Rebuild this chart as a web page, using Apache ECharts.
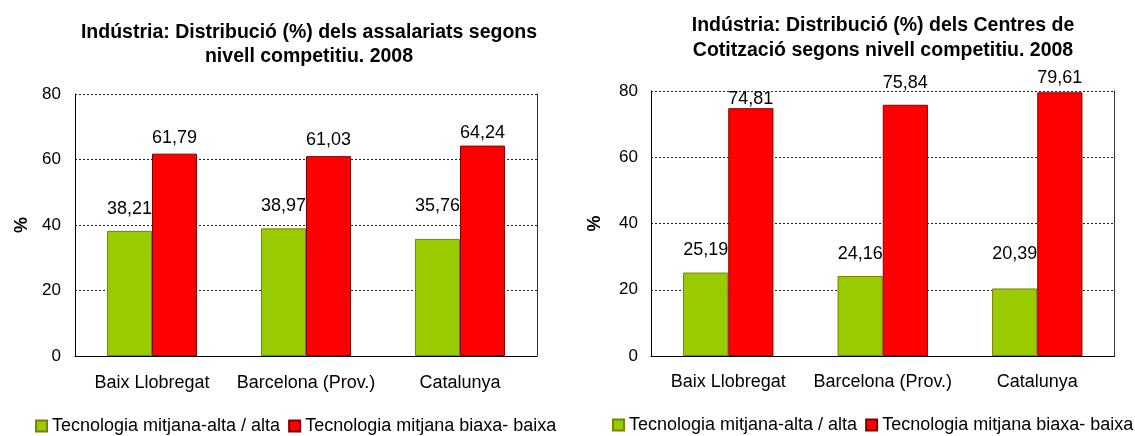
<!DOCTYPE html>
<html>
<head>
<meta charset="utf-8">
<script src="https://cdn.jsdelivr.net/npm/echarts@6/dist/echarts.min.js"></script>
<style>
  html, body { margin: 0; padding: 0; background: #fff; }
  #chart { width: 1135px; height: 436px; }
</style>
</head>
<body>
<div id="chart"></div>
<script>
// Areas shown on both panels
const categories = ['Baix Llobregat', 'Barcelona (Prov.)', 'Catalunya'];
const seriesNames = ['Tecnologia mitjana-alta / alta', 'Tecnologia mitjana biaxa- baixa'];

// Left panel: share of salaried workers (%)
const assalariatsAlta = [38.21, 38.97, 35.76];
const assalariatsBaixa = [61.79, 61.03, 64.24];

// Right panel: share of contribution centres (%)
const centresAlta = [25.19, 24.16, 20.39];
const centresBaixa = [74.81, 75.84, 79.61];

const yTicks = [0, 20, 40, 60, 80];

const titles = [
  'Indústria: Distribució (%) dels assalariats segons\nnivell competitiu. 2008',
  'Indústria: Distribució (%) dels Centres de\nCotització segons nivell competitiu. 2008'
];

// Styling
const FONT = "'Liberation Sans', Arial, sans-serif";
const GREEN = '#99CC00', GREEN_EDGE = '#808000';
const RED = '#FF0000', RED_EDGE = '#800000';

// Gap between each bar top and its value label (hand placed labels)
const labelLift = [
  [[13, 13, 24], [7, 7, 4]],
  [[13.5, 13, 25.5], [0, 13, 5]]
];

function fmt(v) { return v.toFixed(2).replace('.', ','); }

function barSeries(name, values, gridIdx, color, edge, lifts) {
  return {
    name: name,
    type: 'bar',
    xAxisIndex: gridIdx,
    yAxisIndex: gridIdx * 2,
    barGap: '0%',
    barCategoryGap: '41.5%',
    itemStyle: { color: color, borderColor: edge, borderWidth: 1 },
    label: {
      show: true,
      position: 'top',
      color: '#000',
      fontFamily: FONT,
      fontSize: 18,
      formatter: p => fmt(p.value)
    },
    data: values.map((v, i) => ({ value: v, label: { distance: lifts[i] } }))
  };
}

const grids = [
  { left: 75, top: 94, width: 462, height: 262 },
  { left: 651, top: 91, width: 463.5, height: 265 }
];

const xAxes = grids.map((g, i) => ({
  type: 'category',
  gridIndex: i,
  data: categories,
  axisLine: { lineStyle: { color: '#000', width: 1 } },
  axisTick: { show: false },
  axisLabel: { interval: 0, color: '#000', fontFamily: FONT, fontSize: 18, margin: i === 0 ? 18 : 17 }
}));

const yAxes = [];
grids.forEach((g, i) => {
  yAxes.push({
    type: 'value',
    gridIndex: i,
    min: yTicks[0],
    max: yTicks[yTicks.length - 1],
    interval: yTicks[1] - yTicks[0],
    name: '%',
    nameLocation: 'middle',
    nameRotate: 90,
    nameGap: i === 0 ? 44 : 47,
    nameTextStyle: { color: '#000', fontFamily: FONT, fontSize: 18, fontWeight: 'bold' },
    axisLine: { show: true, lineStyle: { color: '#000', width: 1 } },
    axisTick: { show: false },
    axisLabel: { color: '#000', fontFamily: FONT, fontSize: 17, margin: i === 0 ? 14 : 13 },
    splitLine: { show: true, lineStyle: { color: '#222', width: 1, type: [2, 2] } }
  });
  // right-hand frame line of the plot area
  yAxes.push({
    type: 'value',
    gridIndex: i,
    position: 'right',
    min: yTicks[0],
    max: yTicks[yTicks.length - 1],
    interval: yTicks[1] - yTicks[0],
    axisLine: { show: true, lineStyle: { color: '#333', width: 1 } },
    axisTick: { show: false },
    axisLabel: { show: false },
    splitLine: { show: false }
  });
});

const option = {
  backgroundColor: '#fff',
  animation: false,
  title: [
    {
      text: titles[0], left: 309, top: 21, textAlign: 'center', padding: 0,
      textStyle: { color: '#000', fontFamily: FONT, fontSize: 19.5, fontWeight: 'bold', lineHeight: 24 }
    },
    {
      text: titles[1], left: 883, top: 13, textAlign: 'center', padding: 0,
      textStyle: { color: '#000', fontFamily: FONT, fontSize: 19.5, fontWeight: 'bold', lineHeight: 25 }
    }
  ],
  legend: [
    {
      left: 35, top: 417, padding: 0, itemWidth: 11, itemHeight: 11, itemGap: 8, icon: 'rect',
      data: seriesNames,
      textStyle: { color: '#000', fontFamily: FONT, fontSize: 18 }
    },
    {
      left: 612, top: 416, padding: 0, itemWidth: 11, itemHeight: 11, itemGap: 8, icon: 'rect',
      data: seriesNames,
      textStyle: { color: '#000', fontFamily: FONT, fontSize: 18 }
    }
  ],
  grid: grids,
  xAxis: xAxes,
  yAxis: yAxes,
  series: [
    barSeries(seriesNames[0], assalariatsAlta, 0, GREEN, GREEN_EDGE, labelLift[0][0]),
    barSeries(seriesNames[1], assalariatsBaixa, 0, RED, RED_EDGE, labelLift[0][1]),
    barSeries(seriesNames[0], centresAlta, 1, GREEN, GREEN_EDGE, labelLift[1][0]),
    barSeries(seriesNames[1], centresBaixa, 1, RED, RED_EDGE, labelLift[1][1])
  ]
};

const chart = echarts.init(document.getElementById('chart'), null, { renderer: 'canvas' });
chart.setOption(option);
</script>
</body>
</html>
